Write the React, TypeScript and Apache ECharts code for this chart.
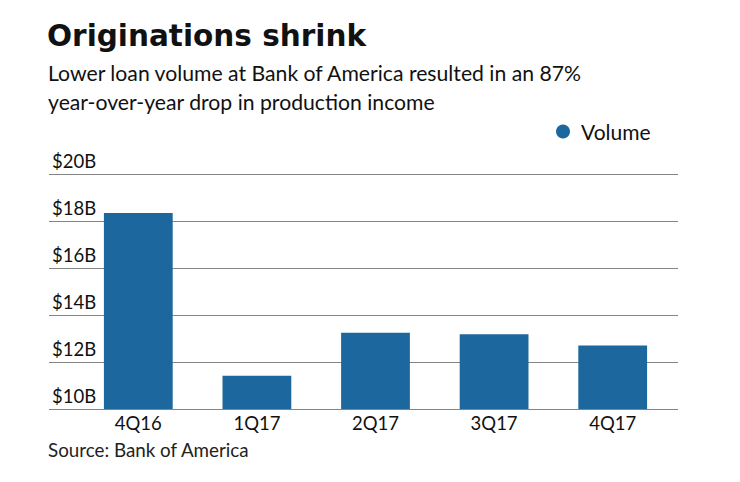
import React, { useEffect, useRef } from "react";
import * as echarts from "echarts";

const categories = ["4Q16", "1Q17", "2Q17", "3Q17", "4Q17"];
const volume = [18.34, 11.42, 13.25, 13.18, 12.7];
const yMin = 10;
const yMax = 20;
const yStep = 2;

const FONT = "Lato, 'Open Sans', sans-serif";
const TITLE_FONT = "'DejaVu Sans', sans-serif";
const BAR = "#1c679e";

export default function App() {
  const ref = useRef<HTMLDivElement>(null);
  useEffect(() => {
    if (!ref.current) return;
    const chart = echarts.init(ref.current, null, { renderer: "svg" });
    chart.setOption({
      animation: false,
      backgroundColor: "#ffffff",
      textStyle: { fontFamily: FONT },
      title: [
        {
          text: "Originations shrink",
          left: 47,
          top: 21,
          padding: 0,
          textStyle: { fontFamily: TITLE_FONT, fontSize: 29.5, fontWeight: "bold", color: "#111" },
        },
        {
          text: "Lower loan volume at Bank of America resulted in an 87%\nyear-over-year drop in production income",
          left: 48,
          top: 58,
          padding: 0,
          textStyle: { fontFamily: FONT, fontSize: 21.2, fontWeight: "normal", color: "#111", lineHeight: 29 },
        },
        {
          text: "Source: Bank of America",
          left: 48,
          top: 440,
          padding: 0,
          textStyle: { fontFamily: FONT, fontSize: 18.8, fontWeight: "normal", color: "#222" },
        },
      ],
      legend: {
        data: ["Volume"],
        left: 556,
        top: 121,
        padding: 0,
        icon: "circle",
        itemWidth: 14,
        itemHeight: 14,
        textStyle: { fontFamily: FONT, fontSize: 21, color: "#111", padding: [0, 0, 0, 6] },
      },
      grid: [
        { left: 49, right: 62, top: 174, bottom: 73 },
        { left: 79, right: 68, top: 174, bottom: 73 },
      ],
      xAxis: [
        { type: "category", gridIndex: 0, data: categories, show: false },
        {
          type: "category",
          gridIndex: 1,
          data: categories,
          axisLine: { show: false },
          axisTick: { show: false },
          axisLabel: { fontFamily: FONT, fontSize: 18.5, color: "#111", margin: 4 },
        },
      ],
      yAxis: [
        {
          type: "value",
          gridIndex: 0,
          min: yMin,
          max: yMax,
          interval: yStep,
          axisLine: { show: false },
          axisTick: { show: false },
          splitLine: { show: true, lineStyle: { color: "#858585", width: 1 } },
          axisLabel: {
            inside: true,
            align: "left",
            verticalAlign: "bottom",
            margin: 3,
            padding: [0, 0, 4, 0],
            fontFamily: FONT,
            fontSize: 18.5,
            color: "#111",
            formatter: (v: number) => `$${v}B`,
          },
        },
        { type: "value", gridIndex: 1, min: yMin, max: yMax, interval: yStep, show: false, splitLine: { show: false } },
      ],
      series: [
        {
          name: "Volume",
          type: "bar",
          xAxisIndex: 1,
          yAxisIndex: 1,
          data: volume,
          barWidth: "58%",
          itemStyle: { color: BAR },
          z: 3,
        },
      ],
    });
    return () => chart.dispose();
  }, []);
  return (
    <div
      ref={ref}
      style={{ position: "fixed", left: 0, top: 0, width: 740, height: 482, background: "#fff" }}
    />
  );
}
